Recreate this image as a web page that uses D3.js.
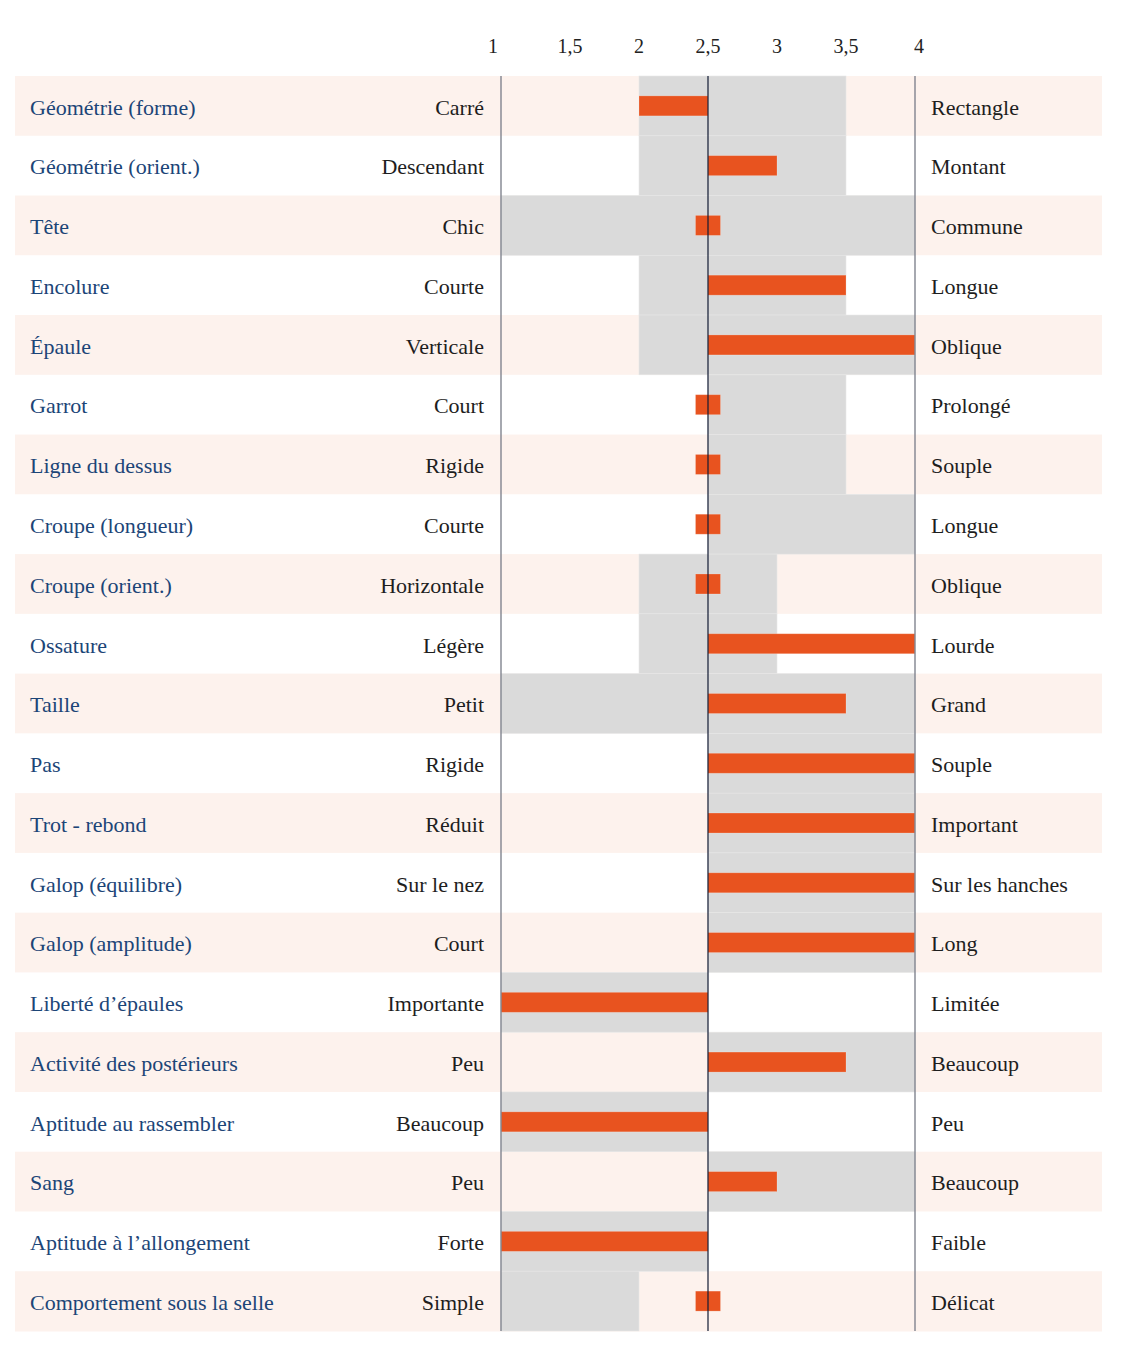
<!DOCTYPE html>
<html><head><meta charset="utf-8">
<script src="https://cdn.jsdelivr.net/npm/d3@7"></script>
<style>html,body{margin:0;padding:0;background:#fff;}svg{display:block;}</style>
</head><body>
<svg id="chart" width="1122" height="1358"></svg>
<script>
const categories = ["Géométrie (forme)","Géométrie (orient.)","Tête","Encolure","Épaule","Garrot","Ligne du dessus","Croupe (longueur)","Croupe (orient.)","Ossature","Taille","Pas","Trot - rebond","Galop (équilibre)","Galop (amplitude)","Liberté dʼépaules","Activité des postérieurs","Aptitude au rassembler","Sang","Aptitude à lʼallongement","Comportement sous la selle"];
const leftLabels = ["Carré","Descendant","Chic","Courte","Verticale","Court","Rigide","Courte","Horizontale","Légère","Petit","Rigide","Réduit","Sur le nez","Court","Importante","Peu","Beaucoup","Peu","Forte","Simple"];
const rightLabels = ["Rectangle","Montant","Commune","Longue","Oblique","Prolongé","Souple","Longue","Oblique","Lourde","Grand","Souple","Important","Sur les hanches","Long","Limitée","Beaucoup","Peu","Beaucoup","Faible","Délicat"];
const rangeLow  = [2,2,1,2,2,2.5,2.5,2.5,2,2,1,2.5,2.5,2.5,2.5,1,2.5,1,2.5,1,1];
const rangeHigh = [3.5,3.5,4,3.5,4,3.5,3.5,4,3,3,4,4,4,4,4,2.5,4,2.5,4,2.5,2];
const values    = [2,3,2.5,3.5,4,2.5,2.5,2.5,2.5,4,3.5,4,4,4,4,1,3.5,1,3,1,2.5];
const tickValues = [1,1.5,2,2.5,3,3.5,4];
const tickLabels = ["1","1,5","2","2,5","3","3,5","4"];
const midpoint = 2.5;

const svg = d3.select("#chart");
const font = "'Liberation Serif', 'DejaVu Serif', serif";
const x = d3.scaleLinear().domain([1,4]).range([501,915]);
const y = d3.scaleBand().domain(categories).range([76,1331]).padding(0);
const bh = y.bandwidth();

// row backgrounds
svg.append("g").selectAll("rect").data(categories).join("rect")
  .attr("x",15).attr("width",1087)
  .attr("y",d=>y(d)).attr("height",bh+0.5)
  .attr("fill",(d,i)=> i%2===0 ? "#fdf2ed" : "#ffffff");

// shaded ranges
svg.append("g").selectAll("rect").data(categories).join("rect")
  .attr("x",(d,i)=>x(rangeLow[i]))
  .attr("width",(d,i)=>x(rangeHigh[i])-x(rangeLow[i]))
  .attr("y",d=>y(d)).attr("height",bh)
  .attr("fill","#dadada")
  .attr("stroke","#e6e6e6").attr("stroke-width",0.6);

// bars
const barH = 20;
svg.append("g").selectAll("rect").data(categories).join("rect")
  .attr("x",(d,i)=> values[i]===midpoint ? x(midpoint)-12.5 : Math.min(x(values[i]),x(midpoint)))
  .attr("width",(d,i)=> values[i]===midpoint ? 25 : Math.abs(x(values[i])-x(midpoint)))
  .attr("y",d=>y(d)+bh/2-barH/2).attr("height",barH)
  .attr("fill","#e8531f")
  .attr("stroke","rgba(255,255,255,0.25)").attr("stroke-width",0.8);

// vertical lines
const yTop = y.range()[0], yBot = y.range()[1];
svg.append("line").attr("x1",x(1)).attr("x2",x(1)).attr("y1",yTop).attr("y2",yBot)
  .attr("stroke","#80848f").attr("stroke-width",1.4);
svg.append("line").attr("x1",x(4)).attr("x2",x(4)).attr("y1",yTop).attr("y2",yBot)
  .attr("stroke","#80848f").attr("stroke-width",1.4);
svg.append("line").attr("x1",x(midpoint)).attr("x2",x(midpoint)).attr("y1",yTop).attr("y2",yBot)
  .attr("stroke","#111a33").attr("stroke-width",1.2);

// ticks
svg.append("g").selectAll("text").data(tickValues).join("text")
  .attr("x",(d,i)=> x(d) + (i===0 ? -8 : (i===tickValues.length-1 ? 4 : 0)))
  .attr("y",53)
  .attr("text-anchor","middle")
  .attr("font-family",font).attr("font-size",20).attr("fill","#222")
  .text((d,i)=>tickLabels[i]);

// labels
const fs = 22;
svg.append("g").selectAll("text").data(categories).join("text")
  .attr("x",30).attr("y",d=>y(d)+bh/2).attr("dy","0.4em")
  .attr("font-family",font).attr("font-size",fs).attr("fill","#1c4577")
  .text(d=>d);
svg.append("g").selectAll("text").data(categories).join("text")
  .attr("x",484).attr("y",d=>y(d)+bh/2).attr("dy","0.4em")
  .attr("text-anchor","end")
  .attr("font-family",font).attr("font-size",fs).attr("fill","#1e1e1e")
  .text((d,i)=>leftLabels[i]);
svg.append("g").selectAll("text").data(categories).join("text")
  .attr("x",931).attr("y",d=>y(d)+bh/2).attr("dy","0.4em")
  .attr("font-family",font).attr("font-size",fs).attr("fill","#1e1e1e")
  .text((d,i)=>rightLabels[i]);
</script>
</body></html>
